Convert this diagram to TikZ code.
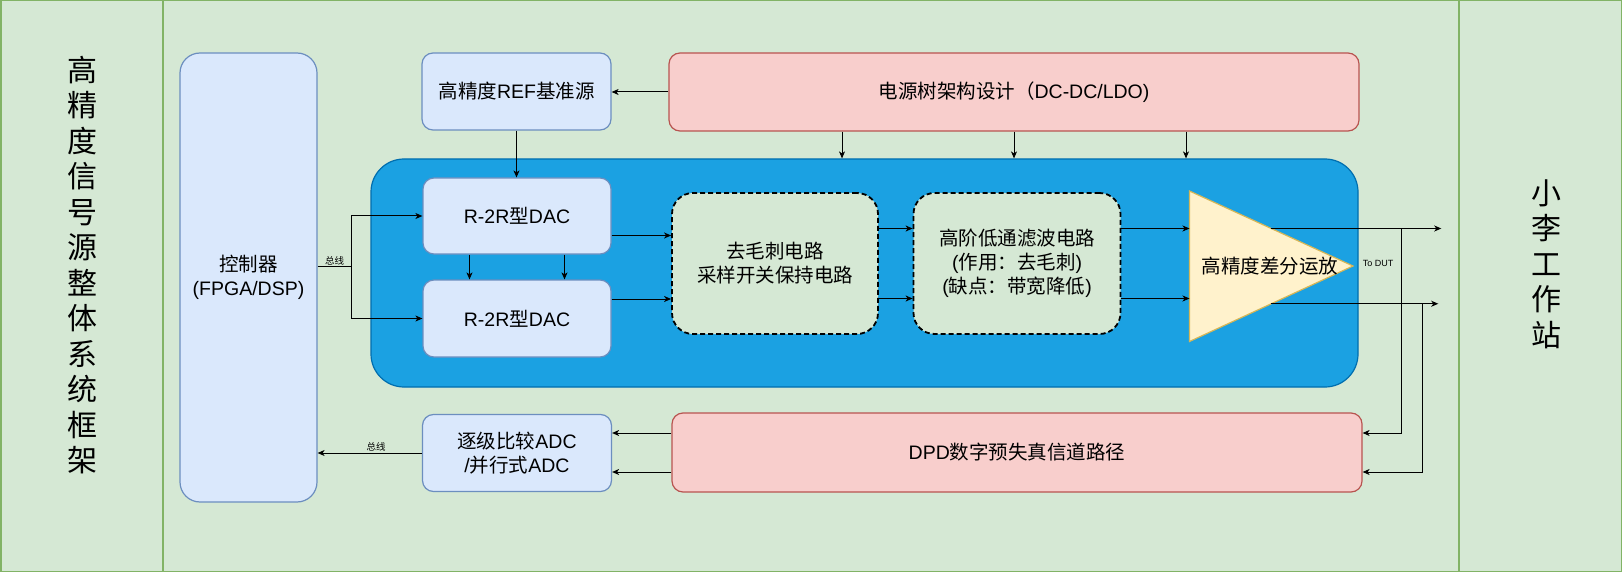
\documentclass[tikz,border=0pt]{standalone}
\usepackage{fontspec}
\setmainfont{Liberation Sans}
\newfontfamily\cjk{Noto Sans CJK SC}
\usetikzlibrary{arrows.meta,calc}
\newcommand{\zh}[1]{{\cjk #1}}
\definecolor{lanegreen}{HTML}{D5E8D4}
\definecolor{laneline}{HTML}{82B366}
\definecolor{boxblue}{HTML}{DAE8FC}
\definecolor{boxblueline}{HTML}{6C8EBF}
\definecolor{boxred}{HTML}{F8CECC}
\definecolor{boxredline}{HTML}{B85450}
\definecolor{corefill}{HTML}{1BA1E2}
\definecolor{coreline}{HTML}{006EAF}
\definecolor{ampfill}{HTML}{FFF2CC}
\definecolor{ampline}{HTML}{D6B656}

\begin{document}
\begin{tikzpicture}[x=1pt, y=-1pt,
    txt/.style={font=\fontsize{19.5}{24}\selectfont, align=center, text=black},
    bluebox/.style={txt, draw=boxblueline, fill=boxblue, line width=1.2pt, rounded corners=11pt, inner sep=0pt},
    redbox/.style={txt, draw=boxredline, fill=boxred, line width=1.2pt, rounded corners=11pt, inner sep=0pt},
    dashbox/.style={txt, draw=black, fill=lanegreen, line width=1.8pt, dash pattern=on 5pt off 3pt, rounded corners=21pt, inner sep=0pt},
    arr/.style={-{Stealth[length=7pt,width=6pt,inset=2pt]}, line width=1pt},
    buslabel/.style={font=\fontsize{9.5}{11}\selectfont\cjk, inner sep=1pt},
    lanetext/.style={font=\fontsize{30}{35.5}\selectfont\cjk, align=center}]

    \useasboundingbox (0,0) rectangle (1622,572);
    \fill [lanegreen] (0,0) rectangle (1622,572);
    \draw [laneline, line width=1.5pt] (0.75,0.75) rectangle (1621.25,571.25);
    \draw [laneline, line width=1.5pt] (163,0) -- (163,572);
    \draw [laneline, line width=1.5pt] (1459,0) -- (1459,572);

    \node [lanetext] (leftlane) at (82,265) {高\\精\\度\\信\\号\\源\\整\\体\\系\\统\\框\\架};
    \node [lanetext] (rightlane) at (1546,264) {小\\李\\工\\作\\站};

    \node [bluebox, rounded corners=20pt, minimum width=137pt, minimum height=449pt] (ctrl) at (248.5,277.5) {\zh{控制器}\\(FPGA/DSP)};
    \node [bluebox, minimum width=189pt, minimum height=77pt] (ref) at (516.5,91.5) {\zh{高精度}REF\zh{基准源}};
    \node [redbox, minimum width=690pt, minimum height=78pt] (power) at (1014,92) {\zh{电源树架构设计（}DC-DC/LDO)};

    \node [draw=coreline, fill=corefill, line width=1.2pt, rounded corners=33pt, minimum width=987pt, minimum height=228pt] (core) at (864.5,273) {};
    \node [bluebox, minimum width=188pt, minimum height=76pt] (dac1) at (517,216) {R-2R\zh{型}DAC};
    \node [bluebox, minimum width=188pt, minimum height=77pt] (dac2) at (517,318.5) {R-2R\zh{型}DAC};
    \node [dashbox, minimum width=206pt, minimum height=141pt] (glitch) at (775,263.5) {\zh{去毛刺电路}\\\zh{采样开关保持电路}};
    \node [dashbox, minimum width=207pt, minimum height=141pt] (filter) at (1017,263.5) {\zh{高阶低通滤波电路}\\(\zh{作用：去毛刺})\\(\zh{缺点：带宽降低})};

    \coordinate (amptop) at (1189.5,191);
    \coordinate (amptip) at (1353,266);
    \coordinate (ampbot) at (1189.5,341.5);
    \draw [draw=ampline, fill=ampfill, line width=1.2pt] (amptop) -- (amptip) -- (ampbot) -- cycle;
    \node [txt] (amp) at (1270,266) {\zh{高精度差分运放}};
    \node [font=\fontsize{9}{11}\selectfont] (dut) at (1378,263) {To DUT};

    \node [redbox, minimum width=690pt, minimum height=79pt] (dpd) at (1017,452.5) {DPD\zh{数字预失真信道路径}};
    \node [bluebox, minimum width=189pt, minimum height=77pt] (adc) at (517,453) {\zh{逐级比较}ADC\\/\zh{并行式}ADC};

    \draw [arr] (power.west) -- (power.west -| ref.east);
    \draw [arr] (ref.south) -- (ref.south |- dac1.north);
    \foreach \dx in {-172pt,0pt,172pt} {
        \coordinate (tap) at ([xshift=\dx]power.south);
        \draw [arr] (tap) -- (tap |- core.north);
    }
    \foreach \dx in {-47.5pt,47.5pt} {
        \coordinate (drop) at ([xshift=\dx]dac1.south);
        \draw [arr] (drop) -- (drop |- dac2.north);
    }

    \coordinate (busout) at ([yshift=11pt]ctrl.east);
    \draw [arr] (busout) -- node [buslabel, above] (bus1) {总线} ++(34,0) |- (dac1.west);
    \draw [arr] (busout) ++(34,0) |- (dac2.west);
    \draw [arr] (adc.west) -- node [buslabel, above, pos=0.44] (bus2) {总线} (adc.west -| ctrl.east);

    \coordinate (d1out) at ([yshift=-19.5pt]dac1.east);
    \coordinate (d2out) at ([yshift=19.5pt]dac2.east);
    \draw [arr] (d1out) -- (d1out -| glitch.west);
    \draw [arr] (d2out) -- (d2out -| glitch.west);
    \foreach \dy in {35pt,-35pt} {
        \coordinate (gout) at ([yshift=\dy]glitch.east);
        \draw [arr] (gout) -- (gout -| filter.west);
        \coordinate (fout) at ([yshift=\dy]filter.east);
        \draw [arr] (fout) -- (fout -| amptop);
    }

    \coordinate (outp) at ($(amptop)!0.5!(amptip)$);
    \coordinate (outn) at ($(ampbot)!0.5!(amptip)$);
    \path (outp) ++(170,0) coordinate (dutp);
    \path (outn) ++(167,0) coordinate (dutn);
    \draw [arr] (outp) -- (dutp);
    \draw [arr] (outn) -- (dutn);

    \coordinate (fbp) at ([yshift=19.5pt]dpd.east);
    \coordinate (fbn) at ([yshift=-19.5pt]dpd.east);
    \draw [arr] (outp) ++(130,0) |- (fbp);
    \draw [arr] (outn) ++(151,0) |- (fbn);
    \draw [arr] (fbp -| dpd.west) -- (fbp -| adc.east);
    \draw [arr] (fbn -| dpd.west) -- (fbn -| adc.east);
\end{tikzpicture}
\end{document}
